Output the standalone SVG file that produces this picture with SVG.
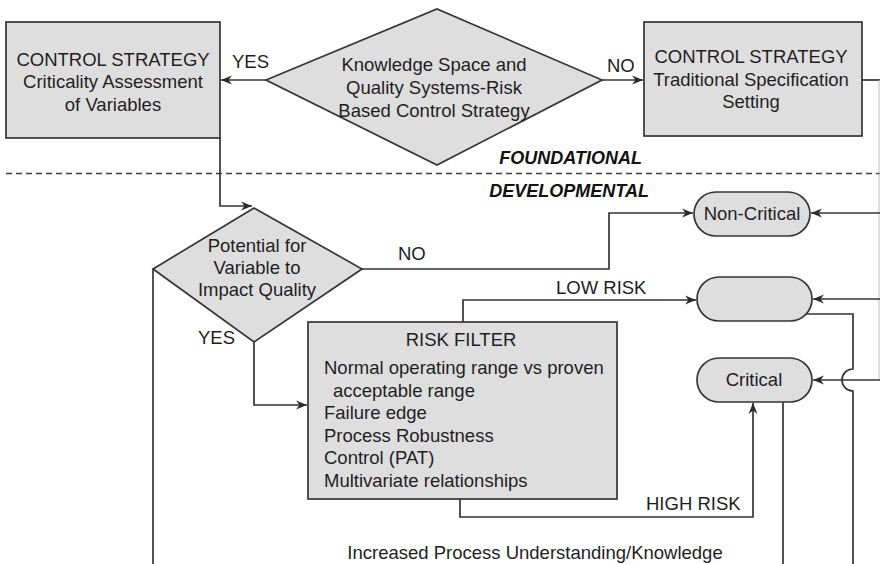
<svg xmlns="http://www.w3.org/2000/svg" width="880" height="564" viewBox="0 0 880 564">
  <defs>
    <marker id="arrow" markerUnits="userSpaceOnUse" markerWidth="12" markerHeight="10" refX="11" refY="5" orient="auto">
      <path d="M0,0.5 L11,5 L0,9.5 L3.5,5 Z" fill="#2a2a2a"/>
    </marker>
    <style>
      .box { fill: #dedede; stroke: #353535; stroke-width: 1.7; }
      .line { fill: none; stroke: #353535; stroke-width: 1.7; }
      .t { font-family: "Liberation Sans", Arial, sans-serif; font-size: 18.5px; fill: #1e1e1e; }
      .c { text-anchor: middle; }
      .zone { font-family: "Liberation Sans", Arial, sans-serif; font-size: 18px; font-weight: bold; font-style: italic; fill: #111; }
    </style>
  </defs>
  <rect width="880" height="564" fill="#ffffff"/>

  <!-- zone divider -->
  <line x1="6" y1="173.5" x2="880" y2="173.5" stroke="#3a3a3a" stroke-width="1.4" stroke-dasharray="6 4"/>
  <text class="zone" x="642" y="164" text-anchor="end">FOUNDATIONAL</text>
  <text class="zone" x="649" y="197" text-anchor="end">DEVELOPMENTAL</text>

  <!-- connectors -->
  <g id="connectors">
    <path class="line" d="M266,80 H221" marker-end="url(#arrow)"/>
    <path class="line" d="M602,80 H643" marker-end="url(#arrow)"/>
    <path class="line" d="M862,80 H880"/>
    <path d="M879,80 V380" fill="none" stroke="#bdbdbd" stroke-width="1"/>
    <path class="line" d="M220,138 V206 H252" marker-end="url(#arrow)"/>
    <path class="line" d="M362,269 H609 V213 H693" marker-end="url(#arrow)"/>
    <path class="line" d="M254,342 V405 H307" marker-end="url(#arrow)"/>
    <path class="line" d="M153,269 V564"/>
    <path class="line" d="M463,322 V300 H696" marker-end="url(#arrow)"/>
    <path class="line" d="M460,499 V517 H753 V403" marker-end="url(#arrow)"/>
    <path class="line" d="M880,213 H811" marker-end="url(#arrow)"/>
    <path class="line" d="M880,299 H813" marker-end="url(#arrow)"/>
    <path class="line" d="M880,380 H813" marker-end="url(#arrow)"/>
    <path class="line" d="M806,314 H853 V369 A11,11 0 0 0 853,391 V564"/>
    <path class="line" d="M783,402 V564"/>
    <text class="t" x="232" y="68">YES</text>
    <text class="t" x="607" y="72">NO</text>
    <text class="t" x="398" y="260">NO</text>
    <text class="t" x="198" y="344">YES</text>
    <text class="t" x="556" y="294">LOW RISK</text>
    <text class="t" x="646" y="510">HIGH RISK</text>
  </g>

  <g id="criticality-assessment">
    <rect class="box" x="6" y="22" width="214" height="116"/>
    <text class="t c" x="113" y="66">CONTROL STRATEGY</text>
    <text class="t c" x="113" y="88">Criticality Assessment</text>
    <text class="t c" x="113" y="111">of Variables</text>
  </g>

  <g id="knowledge-space">
    <polygon class="box" points="266,80 437,9 602,80 437,165"/>
    <text class="t c" x="434" y="71">Knowledge Space and</text>
    <text class="t c" x="434" y="94">Quality Systems-Risk</text>
    <text class="t c" x="434" y="117">Based Control Strategy</text>
  </g>

  <g id="traditional-specification">
    <rect class="box" x="644" y="22" width="218" height="114"/>
    <text class="t c" x="751" y="63">CONTROL STRATEGY</text>
    <text class="t c" x="751" y="86">Traditional Specification</text>
    <text class="t c" x="751" y="108">Setting</text>
  </g>

  <g id="impact-quality">
    <polygon class="box" points="153,269 254,208 362,269 254,342"/>
    <text class="t c" x="257" y="252">Potential for</text>
    <text class="t c" x="257" y="274">Variable to</text>
    <text class="t c" x="257" y="296">Impact Quality</text>
  </g>

  <g id="risk-filter">
    <rect class="box" x="308" y="322" width="309" height="177"/>
    <text class="t c" x="461" y="346">RISK FILTER</text>
    <text class="t" x="324" y="374">Normal operating range vs proven</text>
    <text class="t" x="333" y="396.5">acceptable range</text>
    <text class="t" x="324" y="419">Failure edge</text>
    <text class="t" x="324" y="441.5">Process Robustness</text>
    <text class="t" x="324" y="464">Control (PAT)</text>
    <text class="t" x="324" y="486.5">Multivariate relationships</text>
  </g>

  <g id="non-critical">
    <rect class="box" x="694" y="192" width="116" height="44" rx="22" ry="22"/>
    <text class="t c" x="752" y="220">Non-Critical</text>
  </g>

  <g id="intermediate">
    <rect class="box" x="697" y="277" width="115" height="44" rx="22" ry="22"/>
  </g>

  <g id="critical">
    <rect class="box" x="697" y="358" width="115" height="44" rx="22" ry="22"/>
    <text class="t c" x="754" y="386">Critical</text>
  </g>

  <text class="t c" x="535" y="559">Increased Process Understanding/Knowledge</text>
</svg>
